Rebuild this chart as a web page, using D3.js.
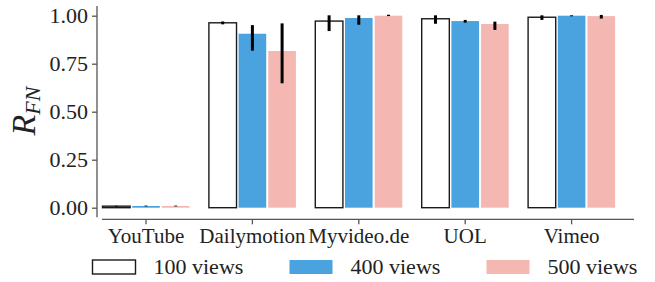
<!DOCTYPE html>
<html>
<head>
<meta charset="utf-8">
<script src="https://cdn.jsdelivr.net/npm/d3@7/dist/d3.min.js"></script>
<style>
  body { margin: 0; background: #fff; }
  text { font-family: "Liberation Serif", "DejaVu Serif", serif; fill: #222; }
</style>
</head>
<body>
<svg id="chart" width="655" height="282"></svg>
<script>
var sites = ["YouTube", "Dailymotion", "Myvideo.de", "UOL", "Vimeo"];
var series = ["100 views", "400 views", "500 views"];

// mean R_FN per site, one array per series
var views100 = [0.008, 0.963, 0.972, 0.984, 0.992];
var views400 = [0.009, 0.906, 0.988, 0.972, 1.000];
var views500 = [0.009, 0.816, 1.000, 0.957, 0.998];

// error bar low / high
var low100 = [0.006, 0.955, 0.920, 0.958, 0.978];
var high100 = [0.010, 0.970, 1.002, 1.002, 1.002];
var low400 = [0.007, 0.818, 0.953, 0.964, 0.997];
var high400 = [0.011, 0.951, 1.002, 0.978, 1.002];
var low500 = [0.007, 0.648, 0.998, 0.926, 0.985];
var high500 = [0.011, 0.960, 1.005, 0.969, 1.004];

var yTicks = [0, 0.25, 0.5, 0.75, 1.0];

var colors = {"100 views": "#ffffff", "400 views": "#4aa3de", "500 views": "#f5b7b2"};

var serif = "'Liberation Serif', 'DejaVu Serif', serif";

var means = [views100, views400, views500],
    lows = [low100, low400, low500],
    highs = [high100, high400, high500];

var data = [];
sites.forEach(function(s, i) {
  series.forEach(function(k, j) {
    data.push({site: s, key: k, value: means[j][i], lo: lows[j][i], hi: highs[j][i]});
  });
});

var svg = d3.select("#chart");

var x = d3.scaleBand()
    .domain(sites)
    .range([92.8, 624.8]);

var xs = d3.scaleBand()
    .domain(series)
    .range([-43.5, 43.5])
    .paddingInner(0.07);

var y = d3.scaleLinear()
    .domain([0, 1])
    .range([207.7, 15.7]);

// bars
svg.append("g").selectAll("rect")
    .data(data)
  .enter().append("rect")
    .attr("x", function(d) { return x(d.site) + x.bandwidth() / 2 + xs(d.key); })
    .attr("y", function(d) { return y(d.value); })
    .attr("width", xs.bandwidth())
    .attr("height", function(d) { return y(0) - y(d.value); })
    .attr("fill", function(d) { return colors[d.key]; })
    .attr("stroke", function(d) { return d.key == "100 views" ? "#1a1a1a" : "none"; })
    .attr("stroke-width", 1.4);

// error bars
svg.append("g").selectAll("line")
    .data(data)
  .enter().append("line")
    .attr("x1", function(d) { return x(d.site) + x.bandwidth() / 2 + xs(d.key) + xs.bandwidth() / 2; })
    .attr("x2", function(d) { return x(d.site) + x.bandwidth() / 2 + xs(d.key) + xs.bandwidth() / 2; })
    .attr("y1", function(d) { return y(d.lo); })
    .attr("y2", function(d) { return y(d.hi); })
    .attr("stroke", "#000")
    .attr("stroke-width", 3);

// y axis (offset spine)
var gy = svg.append("g")
    .attr("transform", "translate(97,0)")
    .call(d3.axisLeft(y).tickValues(yTicks).tickFormat(d3.format(".2f")).tickSize(5).tickPadding(4).tickSizeOuter(0))
    .attr("font-family", serif);
gy.select(".domain").remove();
gy.append("line")
    .attr("y1", y(-0.05)).attr("y2", y(1.05))
    .attr("stroke", "#555").attr("stroke-width", 1.3);
gy.selectAll(".tick line").attr("stroke", "#555").attr("stroke-width", 1.3);
gy.selectAll(".tick text").style("font-size", "22px").attr("fill", "#222");

// x axis (offset spine)
var gx = svg.append("g")
    .attr("transform", "translate(0,219.3)")
    .call(d3.axisBottom(x).tickSize(5).tickPadding(4).tickSizeOuter(0))
    .attr("font-family", serif);
gx.select(".domain").remove();
gx.append("line")
    .attr("x1", 102).attr("x2", 634)
    .attr("stroke", "#555").attr("stroke-width", 1.3);
gx.selectAll(".tick line").attr("stroke", "#555").attr("stroke-width", 1.3);
gx.selectAll(".tick text").style("font-size", "21px").attr("fill", "#222");

// y label R_FN
var yl = svg.append("text")
    .attr("transform", "translate(35,111) rotate(-90)")
    .attr("text-anchor", "middle")
    .style("font-style", "italic");
yl.append("tspan").style("font-size", "34px").text("R");
yl.append("tspan").style("font-size", "22px").attr("dy", 5).text("FN");

// legend
var legend = svg.append("g").selectAll("g")
    .data(series)
  .enter().append("g")
    .attr("transform", function(d, i) { return "translate(" + (92.5 + i * 197) + ",260)"; });

legend.append("rect")
    .attr("width", 43)
    .attr("height", 14)
    .attr("fill", function(d) { return colors[d]; })
    .attr("stroke", function(d) { return d == "100 views" ? "#1a1a1a" : "none"; })
    .attr("stroke-width", 1.4);

legend.append("text")
    .attr("x", 61)
    .attr("y", 13.5)
    .style("font-size", "22px")
    .text(function(d) { return d; });
</script>
</body>
</html>
